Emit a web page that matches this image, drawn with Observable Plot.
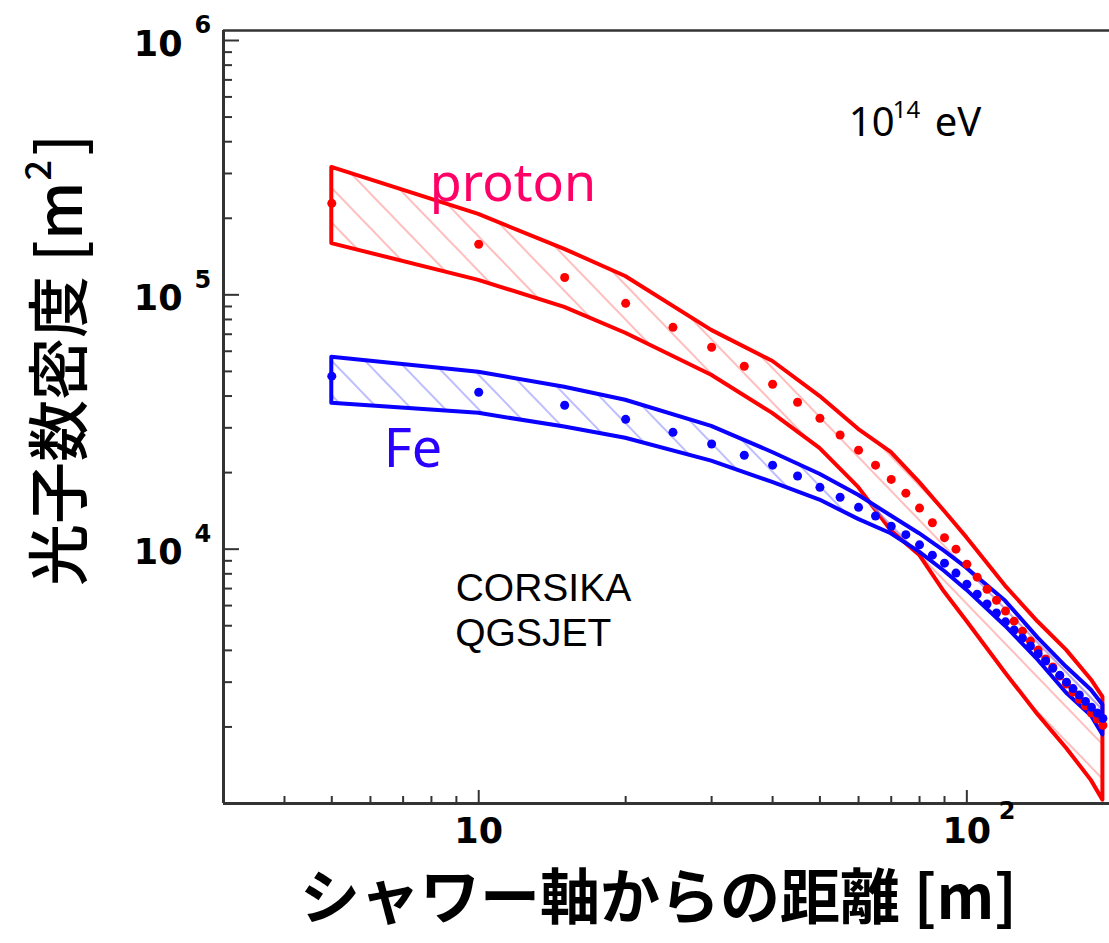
<!DOCTYPE html>
<html>
<head>
<meta charset="utf-8">
<script src="https://cdn.jsdelivr.net/npm/d3@7"></script>
<script src="https://cdn.jsdelivr.net/npm/@observablehq/plot@0.6"></script>
<style>
  body { margin: 0; background: #fff; }
  #chart svg { display: block; }
</style>
</head>
<body>
<div id="chart"></div>
<script>
// Lateral distribution of Cherenkov photon density, 10^14 eV showers (CORSIKA / QGSJET)

// band envelopes: distance from shower axis [m]
const bandX     = [5, 10, 15, 20, 30, 40, 50, 60, 70, 80, 90, 100, 120, 140, 160, 180, 190];
const protonMax = [3.17e5, 2.07e5, 1.51e5, 1.18e5, 7.25e4, 5.48e4, 3.99e4, 2.96e4, 2.40e4, 1.83e4, 1.41e4, 1.11e4, 7.16e3, 5.17e3, 4.01e3, 3.06e3, 2.62e3];
const protonMin = [1.59e5, 1.14e5, 8.93e4, 7.06e4, 4.83e4, 3.42e4, 2.49e4, 1.75e4, 1.18e4, 9.47e3, 6.78e3, 5.21e3, 3.26e3, 2.23e3, 1.65e3, 1.23e3, 1.03e3];
const ironMax   = [5.68e4, 4.96e4, 4.33e4, 3.85e4, 3.04e4, 2.40e4, 1.97e4, 1.63e4, 1.35e4, 1.15e4, 9.82e3, 8.42e3, 6.25e3, 4.47e3, 3.44e3, 2.79e3, 2.44e3];
const ironMin   = [3.75e4, 3.42e4, 3.02e4, 2.73e4, 2.22e4, 1.83e4, 1.56e4, 1.31e4, 1.15e4, 9.73e3, 8.19e3, 6.90e3, 4.98e3, 3.66e3, 2.72e3, 2.21e3, 1.86e3];

// mean densities
const meanX = [5, 10, 15, 20, 25, 30, 35, 40, 45, 50, 55, 60, 65, 70, 75, 80, 85, 90, 95,
               100, 105, 110, 115, 120, 125, 130, 135, 140, 145, 150, 155, 160, 165, 170, 175, 180, 185, 190];
const protonMean = [2.29e5, 1.58e5, 1.17e5, 9.26e4, 7.45e4, 6.22e4, 5.24e4, 4.45e4, 3.78e4, 3.27e4,
                    2.81e4, 2.45e4, 2.14e4, 1.88e4, 1.66e4, 1.45e4, 1.27e4, 1.11e4, 1.0e4,
                    8.73e3, 7.76e3, 6.96e3, 6.30e3, 5.71e3, 5.21e3, 4.76e3, 4.35e3, 4.01e3, 3.70e3,
                    3.44e3, 3.17e3, 2.95e3, 2.74e3, 2.57e3, 2.42e3, 2.27e3, 2.15e3, 2.03e3];
const ironMean   = [4.79e4, 4.14e4, 3.68e4, 3.24e4, 2.88e4, 2.59e4, 2.34e4, 2.14e4, 1.94e4, 1.75e4,
                    1.60e4, 1.46e4, 1.35e4, 1.23e4, 1.14e4, 1.04e4, 9.47e3, 8.81e3, 8.05e3,
                    7.28e3, 6.65e3, 6.09e3, 5.61e3, 5.18e3, 4.81e3, 4.47e3, 4.16e3, 3.88e3, 3.63e3,
                    3.40e3, 3.19e3, 3.00e3, 2.83e3, 2.67e3, 2.52e3, 2.39e3, 2.27e3, 2.16e3];

// axis ticks
const xMajor = [10, 100];
const xMinor = [4, 5, 6, 7, 8, 9, 20, 30, 40, 50, 60, 70, 80, 90];
const yMajor = [1e4, 1e5, 1e6];
const yMinor = [1e3, 1e4, 1e5].flatMap(d => [2, 3, 4, 5, 6, 7, 8, 9].map(k => k * d));
const xTickLabels = [{v: 10, exp: ""}, {v: 100, exp: "2"}];
const yTickLabels = [{v: 1e4, exp: "4"}, {v: 1e5, exp: "5"}, {v: 1e6, exp: "6"}];

const xDomain = [3, 196];
const yDomain = [1e3, 1.0947e6];

const bands = bandX.map((x, i) => ({x, pMax: protonMax[i], pMin: protonMin[i], fMax: ironMax[i], fMin: ironMin[i]}));
const means = meanX.map((x, i) => ({x, p: protonMean[i], fe: ironMean[i]}));

const W = 1109, H = 943;
const M = {left: 223, right: 0, top: 30, bottom: 140};
const frameW = W - M.left - M.right;
const frameH = H - M.top - M.bottom;

const axisColor = "#333";
const tickFont = "DejaVu Sans, sans-serif";
const textFont = "Noto Sans, Open Sans, sans-serif";
const noteFont = "Liberation Sans, Arial, sans-serif";
const cjkFont = "Noto Sans CJK JP, sans-serif";

// short inward tick: a rule inset from the far side of the frame
const tickX = (ticks, len) => Plot.ruleX(ticks, {x: d => d, insetTop: frameH - len, stroke: axisColor, strokeWidth: 2});
const tickY = (ticks, len) => Plot.ruleY(ticks, {y: d => d, insetRight: frameW - len, stroke: axisColor, strokeWidth: 2});

const svg = Plot.plot({
  width: W,
  height: H,
  marginLeft: M.left,
  marginRight: M.right,
  marginTop: M.top,
  marginBottom: M.bottom,
  x: {type: "log", domain: xDomain, axis: null},
  y: {type: "log", domain: yDomain, axis: null},
  marks: [
    // hatched envelopes
    Plot.areaY(bands, {x: "x", y1: "pMin", y2: "pMax", fill: "url(#hatch-proton)",
      stroke: "#ff0000", strokeWidth: 4, strokeLinejoin: "round", clip: true}),
    Plot.areaY(bands, {x: "x", y1: "fMin", y2: "fMax", fill: "url(#hatch-iron)",
      stroke: "#0a00ff", strokeWidth: 4, strokeLinejoin: "round", clip: true}),
    // mean values
    Plot.dot(means, {x: "x", y: "p", r: 4.5, fill: "#ff0000", stroke: null, clip: true}),
    Plot.dot(means, {x: "x", y: "fe", r: 4.5, fill: "#0a00ff", stroke: null, clip: true}),

    // frame (left, bottom, top)
    Plot.ruleX([xDomain[0]], {stroke: axisColor, strokeWidth: 3}),
    Plot.ruleY([yDomain[0]], {stroke: axisColor, strokeWidth: 3}),
    Plot.ruleY([yDomain[1]], {stroke: axisColor, strokeWidth: 2.5}),

    // inward ticks
    tickX(xMinor, 7),
    tickX(xMajor, 13),
    tickY(yMinor, 9),
    tickY(yMajor, 16),

    // tick labels 10 / 10^n
    Plot.text(xTickLabels, {x: "v", frameAnchor: "bottom", text: () => "10", dy: 39,
      fontFamily: tickFont, fontWeight: "bold", fontSize: 35, fill: "#000"}),
    Plot.text(xTickLabels.filter(d => d.exp), {x: "v", frameAnchor: "bottom", text: "exp", dx: 32, dy: 15, textAnchor: "start",
      fontFamily: tickFont, fontWeight: "bold", fontSize: 24, fill: "#000"}),
    Plot.text(yTickLabels, {y: "v", frameAnchor: "left", text: () => "10", dx: -41, dy: 4, textAnchor: "end",
      fontFamily: tickFont, fontWeight: "bold", fontSize: 35, fill: "#000"}),
    Plot.text(yTickLabels, {y: "v", frameAnchor: "left", text: "exp", dx: -29, dy: -15, textAnchor: "start",
      fontFamily: tickFont, fontWeight: "bold", fontSize: 24, fill: "#000"}),

    // axis titles
    Plot.text(["シャワー軸からの距離 [m]"], {frameAnchor: "bottom", text: d => d, dx: -8, dy: 115,
      fontFamily: cjkFont, fontWeight: "bold", fontSize: 60, fill: "#000"}),
    Plot.text(["光子数密度 [m"], {frameAnchor: "left", text: d => d, rotate: -90, textAnchor: "end",
      dx: -161, dy: -235.5, fontFamily: cjkFont, fontWeight: 500, fontSize: 62, fill: "#000"}),
    Plot.text(["2"], {frameAnchor: "left", text: d => d, rotate: -90, textAnchor: "start",
      dx: -184.5, dy: -236.5, fontFamily: cjkFont, fontWeight: 500, fontSize: 36, fill: "#000"}),
    Plot.text(["]"], {frameAnchor: "left", text: d => d, rotate: -90, textAnchor: "start",
      dx: -161, dy: -261, fontFamily: cjkFont, fontWeight: 500, fontSize: 62, fill: "#000"}),

    // annotations
    Plot.text([{x: 57.3, y: 4.72e5}], {x: "x", y: "y", text: () => "10", textAnchor: "start",
      fontFamily: textFont, fontSize: 40, fill: "#000"}),
    Plot.text([{x: 57.3, y: 4.72e5}], {x: "x", y: "y", text: () => "14", textAnchor: "start", dx: 44, dy: -13,
      fontFamily: textFont, fontSize: 24, fill: "#000"}),
    Plot.text([{x: 57.3, y: 4.72e5}], {x: "x", y: "y", text: () => "eV", textAnchor: "start", dx: 86,
      fontFamily: textFont, fontSize: 40, fill: "#000"}),
    Plot.text([{x: 7.94, y: 2.73e5}], {x: "x", y: "y", text: () => "proton", textAnchor: "start",
      fontFamily: textFont, fontSize: 52, fill: "#ff0066"}),
    Plot.text([{x: 6.39, y: 2.45e4}], {x: "x", y: "y", text: () => "Fe", textAnchor: "start",
      fontFamily: textFont, fontSize: 54, fill: "#2a00ff"}),
    Plot.text([{x: 8.97, y: 7.0e3}], {x: "x", y: "y", text: () => "CORSIKA", textAnchor: "start",
      fontFamily: noteFont, fontSize: 39, fill: "#000"}),
    Plot.text([{x: 8.95, y: 4.65e3}], {x: "x", y: "y", text: () => "QGSJET", textAnchor: "start",
      fontFamily: noteFont, fontSize: 39, fill: "#000"})
  ]
});

// diagonal hatch patterns used by the envelopes
const defs = d3.select(svg).insert("defs", ":first-child");
function hatch(id, color) {
  const p = defs.append("pattern")
    .attr("id", id)
    .attr("patternUnits", "userSpaceOnUse")
    .attr("width", 24).attr("height", 24)
    .attr("patternTransform", "rotate(46)");
  p.append("line")
    .attr("x1", -2).attr("y1", 12).attr("x2", 26).attr("y2", 12)
    .attr("stroke", color).attr("stroke-width", 1.3);
}
hatch("hatch-proton", "#ff9a9a");
hatch("hatch-iron", "#9a9aff");

document.getElementById("chart").appendChild(svg);
</script>
</body>
</html>
